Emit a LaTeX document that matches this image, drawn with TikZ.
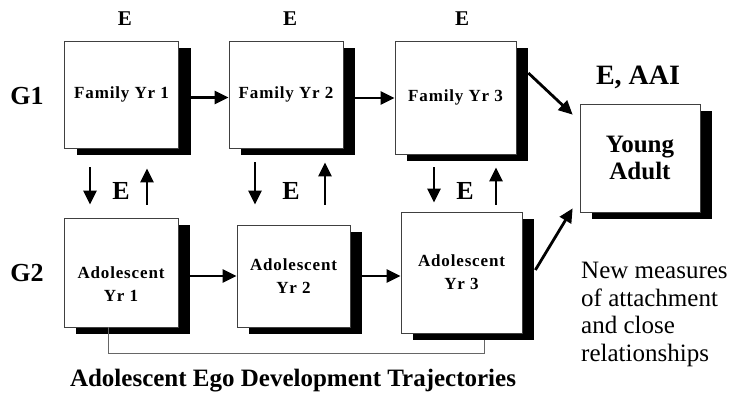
\documentclass[tikz,border=0pt]{standalone}
\usepackage{fontspec}
\setmainfont{Liberation Serif}
\newfontfamily\stagefont{Liberation Serif}[LetterSpace=5]
\usetikzlibrary{arrows.meta,positioning,calc,shadows}

\begin{document}
\begin{tikzpicture}[x=1pt,y=-1pt,
  stage/.style={draw=black!75,line width=0.7pt,fill=white,align=center,inner sep=0pt,
    font=\stagefont\bfseries\fontsize{17}{23}\selectfont,
    drop shadow={shadow xshift=12pt,shadow yshift=-7pt,fill=black,opacity=1}},
  link/.style={line width=2.8pt,-{Triangle[length=14pt,width=13pt]}},
  tag/.style={inner sep=0pt,font=\bfseries\fontsize{26}{28}\selectfont},
  bracket/.style={draw=black!60,line width=0.9pt}]
  \useasboundingbox (0,0) rectangle (733,401);

  \node[stage,minimum width=114pt,minimum height=107pt] (fam1) at (121.5,94.5) {Family Yr 1};
  \node[stage,minimum width=114pt,minimum height=107pt] (fam2) at (286,94.5) {Family Yr 2};
  \node[stage,minimum width=121pt,minimum height=113pt] (fam3) at (455.5,97.5) {Family Yr 3};
  \node[stage,minimum width=120pt,minimum height=108pt,font=\bfseries\fontsize{25}{27}\selectfont] (adult) at (640,158) {Young\\Adult};
  \node[stage,minimum width=114pt,minimum height=109pt] (ado1) at (121,272.5) {\mbox{}\\[12pt]Adolescent\\Yr 1};
  \node[stage,minimum width=113pt,minimum height=102pt] (ado2) at (293.5,276) {Adolescent\\Yr 2};
  \node[stage,minimum width=121pt,minimum height=121pt] (ado3) at (461.5,272.5) {Adolescent\\Yr 3};

  \node[tag,font=\bfseries\fontsize{21}{23}\selectfont] (e1) at (125,19) {E};
  \node[tag,font=\bfseries\fontsize{21}{23}\selectfont] (e2) at (290,19) {E};
  \node[tag,font=\bfseries\fontsize{21}{23}\selectfont] (e3) at (462,19) {E};
  \node[tag] (g1) at (27,96) {G1};
  \node[tag] (g2) at (27,273) {G2};
  \node[tag,font=\bfseries\fontsize{28}{30}\selectfont] (aai) at (638,77) {E, AAI};
  \node[tag] (m1) at (121,191) {E};
  \node[tag] (m2) at (291,191) {E};
  \node[tag] (m3) at (465,191) {E};

  \draw[link] ($(fam1.east)+(12,3)$) -- ($(fam2.west)+(0,3)$);
  \draw[link] ($(fam2.east)+(12,3.5)$) -- ($(fam3.west)+(0,0.5)$);
  \draw[link] ($(ado1.east)+(12,3.5)$) -- (ado2.west);
  \draw[link] ($(ado2.east)+(12,0)$) -- ($(ado3.west)+(0,3.5)$);
  \draw[link] ($(fam3.east)+(12,-24.5)$) -- ($(adult.north west)+(-7,11)$);
  \draw[link] ($(ado3.east)+(13,-2.5)$) -- ($(adult.south west)+(-7,-4)$);

  \draw[link] ($(fam1.south)+(-31.5,19)$) -- ($(ado1.north)+(-31,-13)$);
  \draw[link] ($(ado1.north)+(26,-13)$) -- ($(fam1.south)+(25.5,20)$);
  \draw[link] ($(fam2.south)+(-31,14)$) -- ($(ado2.north)+(-38.5,-20)$);
  \draw[link] ($(ado2.north)+(31.5,-20)$) -- ($(fam2.south)+(39,14)$);
  \draw[link] ($(fam3.south)+(-21.5,13)$) -- ($(ado3.north)+(-27.5,-9)$);
  \draw[link] ($(ado3.north)+(34.5,-7)$) -- ($(fam3.south)+(40.5,13)$);

  \draw[bracket] ($(ado1.south)+(-13,0)$) -- ++(0,26) -| ($(ado3.south)+(22.5,7)$);

  \node[inner sep=0pt,anchor=north west,align=left,font=\fontsize{25}{27.5}\selectfont] (note) at (581,262)
    {New measures\\of attachment\\and close\\relationships};
  \node[inner sep=0pt,font=\bfseries\fontsize{25}{27}\selectfont] (title) at (293,381)
    {Adolescent Ego Development Trajectories};
\end{tikzpicture}
\end{document}
